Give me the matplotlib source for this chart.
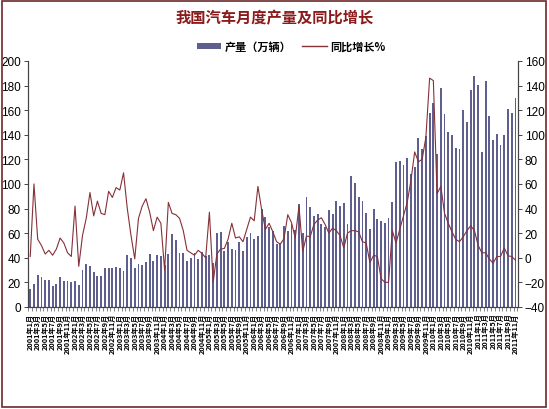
import numpy as np
import matplotlib
matplotlib.use("Agg")
import matplotlib.pyplot as plt
from matplotlib import font_manager as fm
from matplotlib.patches import Rectangle
from matplotlib.lines import Line2D
from matplotlib.patches import Patch

# monthly output (10k vehicles)
output_2001 = [14.8, 18.8, 26.0, 24.7, 21.5, 21.5, 17.0, 18.8, 24.0, 20.7, 21.0, 20.4]
output_2002 = [21.0, 17.7, 30.0, 34.6, 33.6, 28.0, 25.0, 25.5, 32.0, 32.0, 32.0, 32.8]
output_2003 = [32.0, 29.5, 42.4, 40.0, 32.0, 35.0, 34.0, 36.5, 43.0, 37.0, 42.4, 41.6]
output_2004 = [34.0, 43.0, 59.0, 54.0, 44.0, 43.5, 37.0, 39.5, 44.0, 39.0, 45.0, 41.6]
output_2005 = [42.0, 36.0, 60.0, 60.7, 45.8, 53.0, 47.0, 46.0, 53.0, 45.8, 56.6, 60.0]
output_2006 = [55.0, 58.0, 79.7, 72.9, 64.8, 62.0, 51.0, 52.0, 66.0, 62.0, 67.5, 62.6]
output_2007 = [83.7, 60.0, 89.0, 81.0, 74.0, 75.6, 67.5, 65.0, 79.0, 75.6, 86.0, 82.0]
output_2008 = [84.5, 67.5, 106.8, 100.8, 89.7, 86.0, 76.0, 63.0, 79.7, 71.5, 70.0, 68.0]
output_2009 = [72.4, 85.6, 117.6, 118.4, 115.4, 121.0, 108.0, 114.0, 137.0, 128.0, 139.0, 158.0]
output_2010 = [166.0, 124.0, 178.0, 157.0, 142.5, 140.0, 129.0, 128.0, 160.0, 150.0, 176.0, 187.5]
output_2011 = [180.5, 126.0, 184.0, 155.0, 136.0, 140.6, 131.7, 140.0, 161.0, 157.7, 170.0]

# year-on-year growth (%)
growth_2001 = [1, 60, 15, 10, 3, 6, 2, 7, 16, 12, 4, 1]
growth_2002 = [42, -7, 18, 32, 53, 34, 46, 36, 35, 54, 49, 57]
growth_2003 = [55, 69, 40, 18, -1, 32, 42, 48, 37, 22, 33, 28]
growth_2004 = [-10, 45, 36, 35, 32, 22, 6, 4, 2, 6, 3.5, 0]
growth_2005 = [37, -20, 3, 7, 7.5, 15, 28, 16, 17, 13, 23, 33]
growth_2006 = [30, 58, 39, 23, 28, 21, 13, 11, 15.6, 35, 28.5, 16]
growth_2007 = [42, 5, 17.7, 17, 27, 30.6, 32.5, 27, 20, 24, 22, 18]
growth_2008 = [8, 20, 22, 22, 21, 13, 12, -4, 2, 1, -17, -20]
growth_2009 = [-20, 22, 12, 23, 34, 45, 63, 86, 78, 80, 98, 146]
growth_2010 = [144, 52, 58, 36, 28, 21, 15, 13, 17, 22, 26, 22]
growth_2011 = [10, 4, 4, -1, -4.5, 1, 1, 8, 1.5, 1, -2]

output = (output_2001 + output_2002 + output_2003 + output_2004 + output_2005 + output_2006
          + output_2007 + output_2008 + output_2009 + output_2010 + output_2011)
growth = (growth_2001 + growth_2002 + growth_2003 + growth_2004 + growth_2005 + growth_2006
          + growth_2007 + growth_2008 + growth_2009 + growth_2010 + growth_2011)

months = ["%d年%d月" % (y, m) for y in range(2001, 2012) for m in range(1, 13)][:len(output)]

names = {f.name for f in fm.fontManager.ttflist}
num_font = "Liberation Sans Narrow" if "Liberation Sans Narrow" in names else "Liberation Sans"
cjk = ["Noto Sans CJK SC", "DejaVu Sans"]
plt.rcParams["font.family"] = cjk

bar_color = "#5f5f8f"
line_color = "#863038"

fig = plt.figure(figsize=(5.49, 4.10), dpi=100)
ax = fig.add_axes([0.051, 0.249, 0.892, 0.600])
x = np.arange(len(output))
ax.bar(x, output, width=0.5, color=bar_color, zorder=2)
ax.set_xlim(-0.6, len(output) - 0.4)
ax.set_ylim(0, 200)
ax.set_yticks(range(0, 201, 20))

ax2 = ax.twinx()
ax2.plot(x, growth, color=line_color, linewidth=0.8, zorder=3)
ax2.set_ylim(-40, 160)
ax2.set_yticks(range(-40, 161, 20))

for a in (ax, ax2):
    a.spines["top"].set_visible(False)
    for s in a.spines.values():
        s.set_color("#444444")
        s.set_linewidth(0.8)
    a.tick_params(axis="y", length=3, width=0.7, color="#444444", labelsize=8.5, pad=2)
    for lab in a.get_yticklabels():
        lab.set_family(num_font)

ax.set_xticks(x[::2])
ax.set_xticklabels(months[::2], rotation=90, fontsize=5.2, fontweight="bold",
                   va="top", ha="center")
ax.set_xticks(np.arange(-0.5, len(output), 1), minor=True)
ax.tick_params(axis="x", which="major", length=0, pad=4)
ax.tick_params(axis="x", which="minor", length=3, width=0.5, color="#555555")

fig.text(0.5, 0.955, "我国汽车月度产量及同比增长", ha="center", va="center",
         fontsize=11, fontweight="bold", color="#8b1a1a")

handles = [Patch(facecolor=bar_color, edgecolor="none"),
           Line2D([0], [0], color=line_color, linewidth=1.0)]
fig.legend(handles, ["产量（万辆）", "同比增长%"], loc="center", bbox_to_anchor=(0.53, 0.885),
           ncol=2, frameon=False, handlelength=2.2, handleheight=0.5,
           columnspacing=1.0, handletextpad=0.3, prop={"weight": "bold", "size": 8})

fig.patches.append(Rectangle((0.004, 0.006), 0.991, 0.99, transform=fig.transFigure,
                             fill=False, edgecolor="#6b2a2a", linewidth=1.2))

fig.savefig("out.png", dpi=100)
